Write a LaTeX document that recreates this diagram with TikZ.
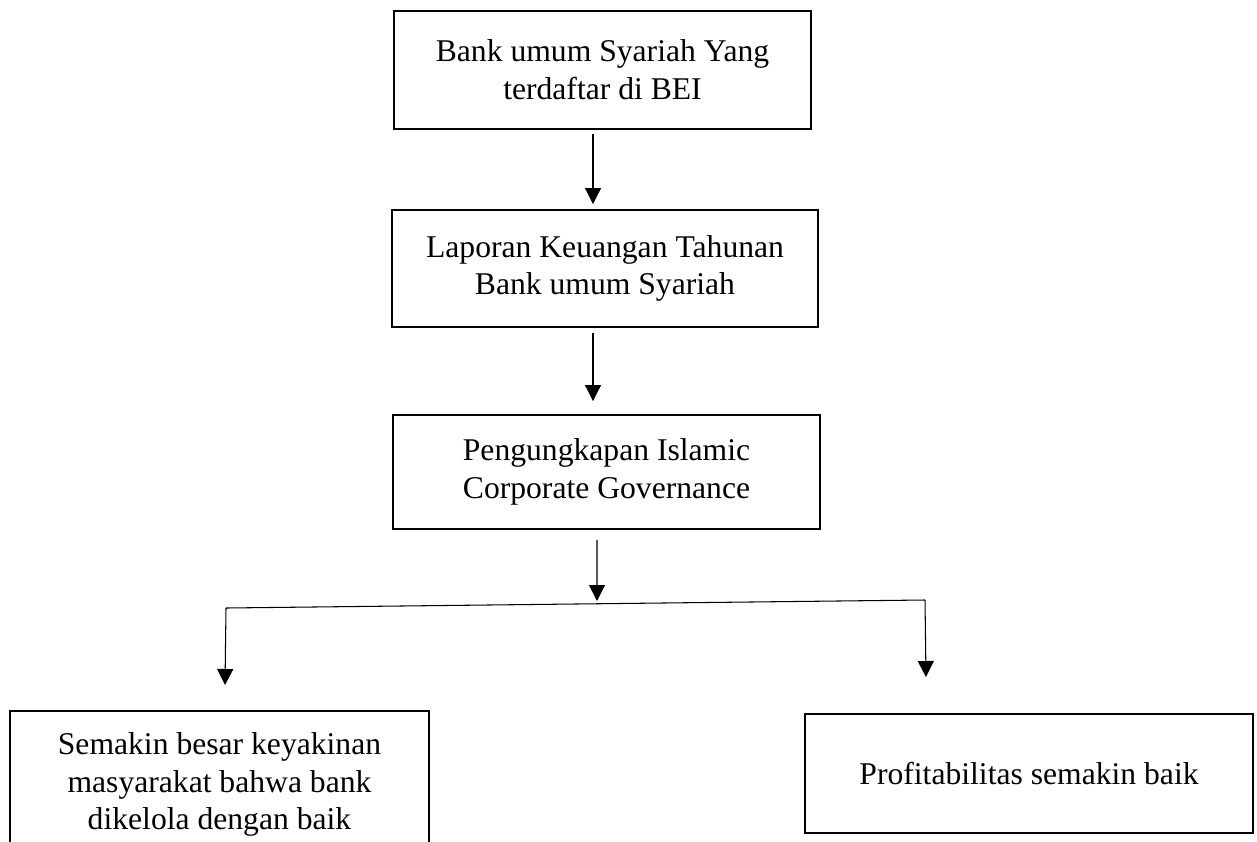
\documentclass[tikz,border=0pt]{standalone}
\usepackage{fontspec}
\setmainfont{Liberation Serif}
\usetikzlibrary{arrows.meta}
\begin{document}
\begin{tikzpicture}[>={Triangle[length=0.32cm,width=0.32cm]}, scale=1.0, line width=0.6pt,
        kotak/.style={draw, line width=1.1pt, align=center, inner sep=0pt, font=\fontsize{18}{21.5}\selectfont}]
        \useasboundingbox (0,0) rectangle (25.14,-16.82);
        \clip (0,0) rectangle (25.14,-16.82);
        \node[kotak, minimum width=8.34cm, minimum height=2.36cm] (bus) at (12.05,-1.40) {Bank umum Syariah Yang\\terdaftar di BEI};
        \node[kotak, minimum width=8.52cm, minimum height=2.34cm] (lap) at (12.10,-5.37) {Laporan Keuangan Tahunan\\Bank umum Syariah};
        \node[kotak, minimum width=8.54cm, minimum height=2.28cm] (icg) at (12.13,-9.44) {Pengungkapan Islamic\\Corporate Governance};
        \node[kotak, minimum width=8.38cm, minimum height=2.94cm] (yakin) at (4.39,-15.69) {Semakin besar keyakinan\\masyarakat bahwa bank\\dikelola dengan baik};
        \node[kotak, minimum width=8.96cm, minimum height=2.38cm] (profit) at (20.58,-15.47) {Profitabilitas semakin baik};
        \coordinate (kiri) at (4.52,-12.16);
        \coordinate (kanan) at (18.50,-12.00);
        \coordinate (ujung) at (11.94,-12.02);
        \coordinate (ujungkiri) at (4.50,-13.70);
        \coordinate (ujungkanan) at (18.52,-13.54);
        \draw[->, shorten <=0.08cm, shorten >=0.1cm] ([xshift=-0.19cm]bus.south) -- ([xshift=-0.19cm]bus.south |- lap.north);
        \draw[->, shorten <=0.1cm, shorten >=0.26cm] ([xshift=-0.24cm]lap.south) -- ([xshift=-0.24cm]lap.south |- icg.north);
        \draw[->, shorten <=0.2cm] ([xshift=-0.19cm]icg.south) -- (ujung);
        \draw (kiri) -- (kanan);
        \draw[->] (kiri) -- (ujungkiri);
        \draw[->] (kanan) -- (ujungkanan);
    \end{tikzpicture}
\end{document}
